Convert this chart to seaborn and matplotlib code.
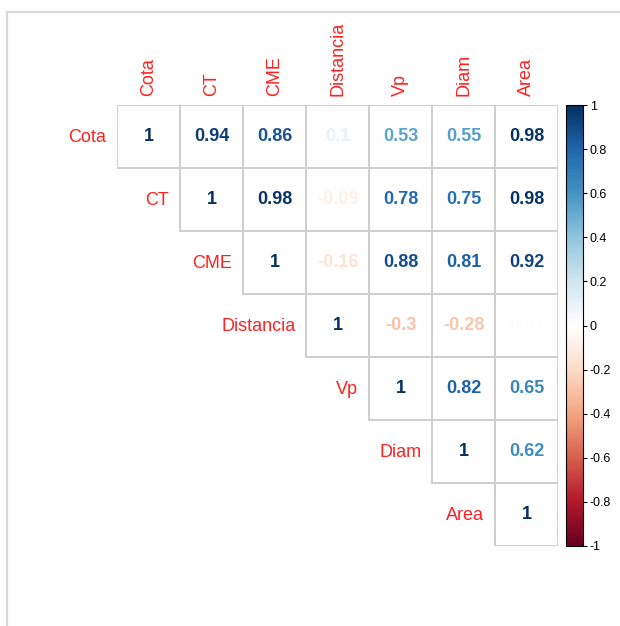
import numpy as np
import pandas as pd
import matplotlib
matplotlib.use("Agg")
import matplotlib.pyplot as plt
import seaborn as sns
from matplotlib.colors import LinearSegmentedColormap, ListedColormap, Normalize, to_rgba
from matplotlib.cm import ScalarMappable
from matplotlib.lines import Line2D

# Variables and upper-triangle correlation coefficients (row by row)
variables = ["Cota", "CT", "CME", "Distancia", "Vp", "Diam", "Area"]
row_cota = [1, 0.94, 0.86, 0.10, 0.53, 0.55, 0.98]
row_ct = [1, 0.98, -0.09, 0.78, 0.75, 0.98]
row_cme = [1, -0.16, 0.88, 0.81, 0.92]
row_distancia = [1, -0.30, -0.28, 0.01]
row_vp = [1, 0.82, 0.65]
row_diam = [1, 0.62]
row_area = [1]
colorbar_ticks = [-1, -0.8, -0.6, -0.4, -0.2, 0, 0.2, 0.4, 0.6, 0.8, 1]

rows = [row_cota, row_ct, row_cme, row_distancia, row_vp, row_diam, row_area]
n = len(variables)
corr = np.full((n, n), np.nan)
for i, r in enumerate(rows):
    corr[i, i:] = r
    corr[i:, i] = r
df = pd.DataFrame(corr, index=variables, columns=variables)
mask = np.tril(np.ones((n, n), dtype=bool), k=-1)

# Diverging red-blue palette
rdbu = LinearSegmentedColormap.from_list(
    "rdbu",
    ["#67001F", "#B2182B", "#D6604D", "#F4A582", "#FDDBC7", "#FFFFFF",
     "#D1E5F0", "#92C5DE", "#4393C3", "#2166AC", "#053061"],
    N=200,
)
norm = Normalize(vmin=-1, vmax=1)

plt.rcParams["font.family"] = ["Liberation Sans", "DejaVu Sans"]

fig = plt.figure(figsize=(6.2, 6.26), dpi=100)
ax = fig.add_axes([117 / 620, 80 / 626, 441 / 620, 441 / 626])
cax = fig.add_axes([566 / 620, 80 / 626, 17 / 620, 441 / 626])

labels = df.map(lambda v: "" if np.isnan(v) else f"{v:g}").values

sns.heatmap(
    df, mask=mask, ax=ax, cmap=ListedColormap(["white"]), cbar=False,
    linewidths=1.2, linecolor="#cfcfcf", square=False,
    annot=labels, fmt="", annot_kws={"fontsize": 13, "fontweight": "bold"},
    xticklabels=False, yticklabels=False,
)

# Keep cell borders only on the upper triangle
mesh = ax.collections[0]
edge = np.array([to_rgba("none") if m else to_rgba("#cfcfcf") for m in mask.ravel()])
mesh.set_edgecolor(edge)

# Colour each coefficient by its value
for t in ax.texts:
    x, y = t.get_position()
    j, i = int(x - 0.5), int(y - 0.5)
    t.set_color(rdbu(norm(df.iat[i, j])))

ax.tick_params(left=False, bottom=False)
for s in ax.spines.values():
    s.set_visible(False)

# Column labels on top, row labels to the left of the diagonal
for j, name in enumerate(variables):
    ax.text(j + 0.5, -0.14, name, rotation=90, ha="center", va="bottom",
            color="#ff2020", fontsize=13, clip_on=False)
for i, name in enumerate(variables):
    ax.text(i - 0.17, i + 0.52, name, ha="right", va="center",
            color="#ff2020", fontsize=13, clip_on=False)

cb = fig.colorbar(ScalarMappable(norm=norm, cmap=rdbu), cax=cax)
cb.set_ticks(colorbar_ticks)
cb.set_ticklabels([f"{v:g}" for v in colorbar_ticks])
cb.ax.tick_params(labelsize=9, length=3, width=0.8, pad=2)
cb.outline.set_linewidth(0.8)

# Light frame around the panel
fig.add_artist(Line2D([7 / 620, 7 / 620], [0, 1 - 12 / 626], color="#d9d9d9", lw=1.6))
fig.add_artist(Line2D([7 / 620, 1], [1 - 12 / 626, 1 - 12 / 626], color="#d9d9d9", lw=1.6))

fig.savefig("out.png", dpi=100, facecolor="white")
